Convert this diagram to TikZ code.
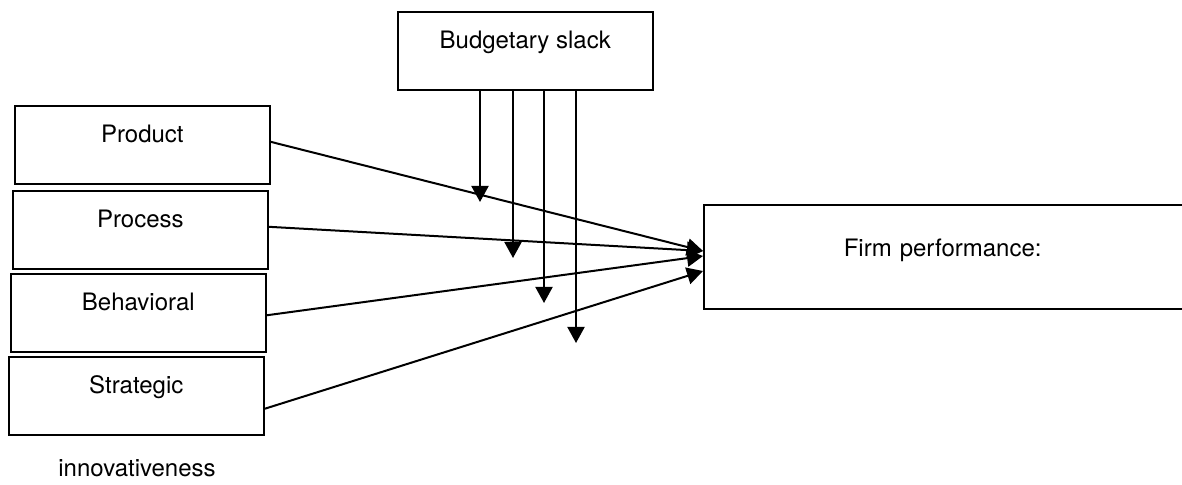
\documentclass[tikz,border=0pt]{standalone}
\usepackage{fontspec}
\setmainfont{TeX Gyre Heros}
\usepackage{tikz}
\usetikzlibrary{arrows.meta,positioning}

\begin{document}
\begin{tikzpicture}[x=0.5pt,y=-0.5pt,draw=black,>={Triangle[length=8pt,width=8.5pt]},font=\fontsize{12}{14}\selectfont]
	\tikzstyle{box}=[draw,line width=0.8pt,inner sep=0pt,anchor=north west,
	minimum width=127.5pt,
	text height=18.3pt,text depth=20.7pt
	]
	\tikzstyle{link}=[->,line width=1pt];
\useasboundingbox (0,0) rectangle (1182,485);

\node[box](prod) at (14,105){Product};
\node[box](proc) at (12,190){Process};
\node[box](behav) at (10,273){Behavioral};
\node[box](strat) at (8,356){Strategic};
\node[anchor=base](innov) at (137,477){innovativeness};

\node[box](slack) at (397,11){Budgetary slack};
\node[box,text height=25.8pt,text depth=26.4pt,inner xsep=70pt,text width=150pt,align=left](firm) at (703,204){Firm performance:};

%moderator ends
\coordinate (m1) at (480,202);
\coordinate (m2) at (513,258);
\coordinate (m3) at (544,303);
\coordinate (m4) at (576,343);

\draw [link] ([yshift=1.5pt]prod.east) -- ([yshift=3pt]firm.west);
\draw [link] ([yshift=1.5pt]proc.east) -- ([yshift=3pt]firm.west);
\draw [link] ([yshift=-1.25pt]behav.east) -- ([yshift=0.5pt]firm.west);
\draw [link] ([yshift=-6.5pt]strat.east) -- ([yshift=-7pt]firm.west);

\draw [link] (m1 |- slack.south) -- (m1);
\draw [link] (m2 |- slack.south) -- (m2);
\draw [link] (m3 |- slack.south) -- (m3);
\draw [link] (m4 |- slack.south) -- (m4);

\end{tikzpicture}
\end{document}
